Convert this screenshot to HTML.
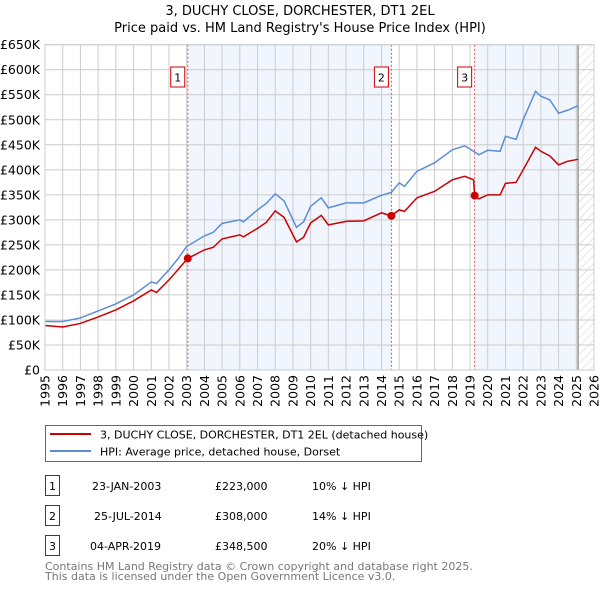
<!DOCTYPE html>
<html><head><meta charset="utf-8"><style>
body{margin:0;background:#fff;font-family:"DejaVu Sans","Liberation Sans",sans-serif;}
svg text{font-family:"DejaVu Sans","Liberation Sans",sans-serif;}
</style></head><body>
<svg width="600" height="590" viewBox="0 0 600 590">
<defs><pattern id="hatch" width="6" height="6" patternUnits="userSpaceOnUse" patternTransform="rotate(45)"><line x1="0" y1="0" x2="0" y2="6" stroke="#ccc" stroke-width="1"/></pattern></defs>
<text x="300" y="15" text-anchor="middle" font-size="13">3, DUCHY CLOSE, DORCHESTER, DT1 2EL</text>
<text x="300" y="32" text-anchor="middle" font-size="13">Price paid vs. HM Land Registry's House Price Index (HPI)</text>
<g id="plot"></g>
<g>
<rect x="45.5" y="425.5" width="376" height="36" fill="#fff" stroke="#666"/>
<line x1="50" y1="434" x2="91" y2="434" stroke="#cc0000" stroke-width="2"/>
<text x="100" y="438.5" font-size="11">3, DUCHY CLOSE, DORCHESTER, DT1 2EL (detached house)</text>
<line x1="50" y1="451" x2="91" y2="451" stroke="#5b8ed6" stroke-width="2"/>
<text x="100" y="455.5" font-size="11">HPI: Average price, detached house, Dorset</text>
</g>
<g font-size="11">
<rect x="45.5" y="475.5" width="14" height="20" fill="#fff" stroke="#c00"/><text x="52.5" y="490" text-anchor="middle">1</text>
<text x="92" y="490">23-JAN-2003</text><text x="215" y="490">£223,000</text><text x="312" y="490">10% ↓ HPI</text>
<rect x="45.5" y="505.5" width="14" height="20" fill="#fff" stroke="#c00"/><text x="52.5" y="520" text-anchor="middle">2</text>
<text x="94" y="520">25-JUL-2014</text><text x="215" y="520">£308,000</text><text x="312" y="520">14% ↓ HPI</text>
<rect x="45.5" y="535.5" width="14" height="20" fill="#fff" stroke="#c00"/><text x="52.5" y="550" text-anchor="middle">3</text>
<text x="90" y="550">04-APR-2019</text><text x="215" y="550">£348,500</text><text x="312" y="550">20% ↓ HPI</text>
</g>
<text x="45" y="570" font-size="11" fill="#777">Contains HM Land Registry data © Crown copyright and database right 2025.</text>
<text x="45" y="580" font-size="11" fill="#777">This data is licensed under the Open Government Licence v3.0.</text>
</svg>
<script>
const hpiYears=[1995,1996,1997,1998,1999,2000,2001,2001.3,2002,2002.5,2003,2004,2004.5,2005,2006,2006.2,2007,2007.5,2008,2008.5,2009,2009.2,2009.6,2010,2010.6,2011,2012,2013,2014,2014.56,2015,2015.3,2016,2017,2018,2018.7,2019.2,2019.5,2020,2020.7,2021,2021.6,2022,2022.7,2023,2023.5,2024,2024.5,2025.1];
const hpiValues=[97,97,104,118,132,150,176,173,200,222,247,268,275,293,300,296,320,333,352,338,300,285,296,327,344,324,334,334,349,355,374,367,397,414,440,448,437,430,439,437,467,461,500,557,547,540,513,519,528];
const priceYears=[1995,1996,1997,1998,1999,2000,2001,2001.3,2002,2002.5,2003.06,2004,2004.5,2005,2006,2006.2,2007,2007.5,2008,2008.5,2009,2009.2,2009.6,2010,2010.6,2011,2012,2013,2014,2014.56,2015,2015.3,2016,2017,2018,2018.7,2019.2,2019.26,2019.5,2020,2020.7,2021,2021.6,2022,2022.7,2023,2023.5,2024,2024.5,2025.1];
const priceValues=[89,86,93,106,120,138,160,155,180,200,223,240,245,262,270,266,283,295,318,305,270,256,265,294,309,290,297,298,314,308,320,317,344,357,380,387,380,348.5,342,350,350,373,375,400,445,437,428,410,417,421];
const saleYears=[2003.06,2014.56,2019.26];
const saleValues=[223,308,348.5];
const saleLabels=["1","2","3"];
const yTicks=[0,50,100,150,200,250,300,350,400,450,500,550,600,650];
const yTickLabels=["£0","£50K","£100K","£150K","£200K","£250K","£300K","£350K","£400K","£450K","£500K","£550K","£600K","£650K"];
const xTicks=[1995,1996,1997,1998,1999,2000,2001,2002,2003,2004,2005,2006,2007,2008,2009,2010,2011,2012,2013,2014,2015,2016,2017,2018,2019,2020,2021,2022,2023,2024,2025,2026];
const X0=45,X1=594,Y0=370,Y1=44.7,dataEnd=2025.1;
const xs=y=>X0+(y-1995)/(2026-1995)*(X1-X0);
const ys=v=>Y0-v/650*(Y0-Y1);
const NS="http://www.w3.org/2000/svg";
const g=document.getElementById('plot');
function mk(t,a,p){const e=document.createElementNS(NS,t);for(const k in a)e.setAttribute(k,a[k]);(p||g).appendChild(e);return e;}
let r;
r=mk('rect',{x:xs(saleYears[0]),y:Y1,width:xs(saleYears[1])-xs(saleYears[0]),height:Y0-Y1,fill:'#eef3fc',opacity:0.8});


r=mk('rect',{x:xs(saleYears[2]),y:Y1,width:xs(dataEnd)-xs(saleYears[2]),height:Y0-Y1,fill:'#eef3fc',opacity:0.8});


r=mk('rect',{x:xs(dataEnd),y:Y1,width:X1-xs(dataEnd),height:Y0-Y1,fill:'url(#hatch)'});


yTicks.forEach((v,i)=>{
 const l=mk('line',{x1:X0,x2:X1,y1:ys(v),y2:ys(v),stroke:'#cccccc'});
 
 
 const t=mk('text',{x:40,y:ys(v)+4.5,'text-anchor':'end','font-size':'12.5'});t.textContent=yTickLabels[i];
 
 
});
xTicks.forEach(y=>{
 const l=mk('line',{x1:xs(y),x2:xs(y),y1:Y1,y2:Y0,stroke:'#cccccc'});
 
 
 const t=mk('text',{x:0,y:0,'text-anchor':'end','font-size':'12.5',transform:`translate(${xs(y)+4.5},${Y0+5}) rotate(-90)`});t.textContent=y;
 
 
});
const vl=mk('line',{x1:xs(dataEnd),x2:xs(dataEnd),y1:Y1,y2:Y0,stroke:'#999','stroke-width':1.5});


saleYears.forEach((y,i)=>{
 const l=mk('line',{x1:xs(y),x2:xs(y),y1:Y1,y2:Y0,stroke:'#ee5555','stroke-dasharray':'2,2'});
 
 
 const b=mk('rect',{x:xs(y)-17,y:67,width:14,height:20,fill:'#fff',stroke:'#c00'});
 
 
 const t=mk('text',{x:xs(y)-10,y:81.5,'text-anchor':'middle','font-size':'11'});t.textContent=saleLabels[i];
 
 
});
const hp=mk('polyline',{points:hpiYears.map((y,i)=>xs(y)+','+ys(hpiValues[i])).join(' '),fill:'none',stroke:'#5b8ed6','stroke-width':1.5});


const pp=mk('polyline',{points:priceYears.map((y,i)=>xs(y)+','+ys(priceValues[i])).join(' '),fill:'none',stroke:'#cc0000','stroke-width':1.5});


saleYears.forEach((y,i)=>{
 const c=mk('circle',{cx:xs(y),cy:ys(saleValues[i]),r:4,fill:'#cc0000'});
 
 
});
const ax=mk('rect',{x:X0,y:Y1,width:X1-X0,height:Y0-Y1,fill:'none',stroke:'#cccccc'});


</script>
</body></html>
